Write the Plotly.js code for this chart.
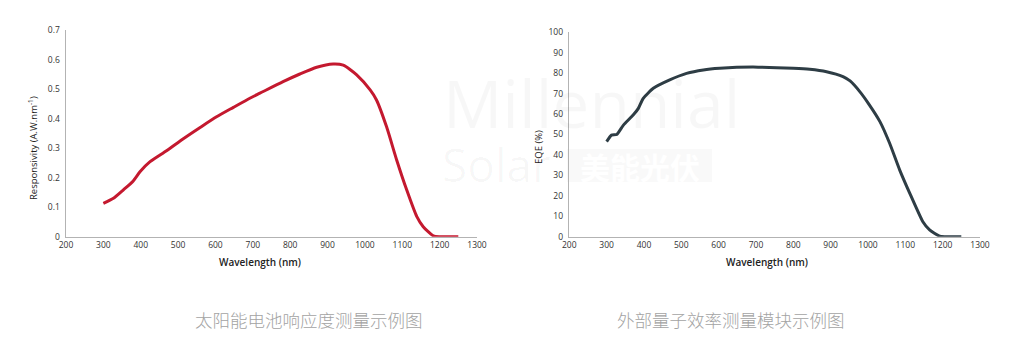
<!DOCTYPE html>
<html>
<head>
<meta charset="utf-8">
<script src="https://cdn.plot.ly/plotly-3.0.1.min.js"></script>
<style>html,body{margin:0;padding:0;background:#fff;}#chart{width:1023px;height:353px;}</style>
</head>
<body>
<div id="chart"></div>
<script>
// Responsivity curve (left)
const respWavelength = [300, 327, 353, 380, 398, 425, 469, 513, 559, 603, 648, 692, 719, 781, 826, 871, 915, 942, 978, 1014, 1031, 1058, 1085, 1112, 1139, 1156, 1183, 1200, 1250];
const respValues     = [0.113, 0.13, 0.158, 0.189, 0.22, 0.254, 0.291, 0.331, 0.37, 0.406, 0.438, 0.469, 0.486, 0.525, 0.551, 0.574, 0.585, 0.581, 0.548, 0.497, 0.463, 0.372, 0.26, 0.158, 0.068, 0.034, 0.003, 0.0, 0.0];
// EQE curve (right)
const eqeWavelength = [300, 313, 327, 345, 371, 385, 398, 425, 469, 514, 559, 603, 692, 710, 800, 844, 889, 933, 952, 978, 1000, 1032, 1058, 1085, 1112, 1147, 1165, 1192, 1250];
const eqeValues     = [46.5, 49.7, 50, 54.6, 59.5, 62.8, 67.7, 72.6, 76.7, 79.9, 81.6, 82.4, 83.0, 82.9, 82.4, 81.9, 80.7, 78.3, 76.2, 71, 65.5, 56.3, 45.7, 32.6, 21.2, 7.3, 3.3, 0.3, 0];
const xTicks = [200, 300, 400, 500, 600, 700, 800, 900, 1000, 1100, 1200, 1300];
const respTicks = [0, 0.1, 0.2, 0.3, 0.4, 0.5, 0.6, 0.7];
const eqeTicks = [0, 10, 20, 30, 40, 50, 60, 70, 80, 90, 100];
const captions = ["太阳能电池响应度测量示例图", "外部量子效率测量模块示例图"];
const titles = {x: "Wavelength (nm)", resp: "Responsivity (A.W.nm<sup>-1</sup>)", eqe: "EQE (%)"};

const FONT = "Open Sans, Lato, sans-serif";
const tickFont = {family: FONT, size: 8.5, color: "#333"};
const xTitleFont = {family: FONT, size: 10, color: "#222", weight: 600};
const yTitleFont = {family: FONT, size: 9.5, color: "#222"};
const capFont = {family: "Noto Sans CJK SC, sans-serif", size: 17.5, color: "#a3a3a3", weight: 300};
const wm = "rgba(0,0,0,0.03)";

const traces = [
  {x: respWavelength, y: respValues, xaxis: "x", yaxis: "y", type: "scatter", mode: "lines",
   line: {color: "#c4192f", width: 3, shape: "spline", smoothing: 0.6}, hoverinfo: "skip"},
  {x: eqeWavelength, y: eqeValues, xaxis: "x2", yaxis: "y2", type: "scatter", mode: "lines",
   line: {color: "#2e3d45", width: 3, shape: "spline", smoothing: 0.5}, hoverinfo: "skip"}
];

const axBase = {showgrid: false, zeroline: false, showline: true, linecolor: "#b3b3b3", linewidth: 1.5,
  ticks: "", tickfont: tickFont, fixedrange: true};

function px(x, y) { return {x: x / 1023, y: (353 - y) / 353}; }
function ann(text, x, y, font, extra) {
  const p = px(x, y);
  return Object.assign({text: text, x: p.x, y: p.y, xref: "paper", yref: "paper", showarrow: false,
    xanchor: "center", yanchor: "middle", font: font}, extra || {});
}

const layout = {
  width: 1023, height: 353,
  margin: {l: 0, r: 0, t: 0, b: 0},
  paper_bgcolor: "#fff", plot_bgcolor: "rgba(0,0,0,0)",
  showlegend: false,
  xaxis: Object.assign({}, axBase, {domain: [66/1023, 477/1023], range: [200, 1300], tickvals: xTicks, anchor: "y"}),
  yaxis: Object.assign({}, axBase, {domain: [116.3/353, 323/353], range: [0, 0.7], tickvals: respTicks, anchor: "x", ticklabelstandoff: 3}),
  xaxis2: Object.assign({}, axBase, {domain: [569.3/1023, 980/1023], range: [200, 1300], tickvals: xTicks, anchor: "y2"}),
  yaxis2: Object.assign({}, axBase, {domain: [116.3/353, 320.7/353], range: [0, 100], tickvals: eqeTicks, anchor: "x2", ticklabelstandoff: 3}),
  shapes: [
    {type: "rect", xref: "paper", yref: "paper", layer: "below",
     x0: 567/1023, x1: 712/1023, y0: (353-182)/353, y1: (353-149)/353, fillcolor: "rgba(0,0,0,0.025)", line: {width: 0}}
  ],
  annotations: [
    ann("Millennial", 441, 102, {family: FONT, size: 66, color: wm}, {xanchor: "left"}),
    ann("Solar", 440, 164, {family: FONT, size: 46, color: wm}, {xanchor: "left"}),
    ann("美能光伏", 640, 166, {family: "Noto Sans CJK SC, sans-serif", size: 30, color: "#ffffff", weight: 700}),
    ann(titles.x, 259.5, 262, xTitleFont),
    ann(titles.x, 767, 262, xTitleFont),
    ann(titles.resp, 33, 148, yTitleFont, {textangle: -90}),
    ann(titles.eqe, 538, 147, yTitleFont, {textangle: -90}),
    ann(captions[0], 309, 319, capFont),
    ann(captions[1], 731, 319, capFont)
  ]
};

Plotly.newPlot("chart", traces, layout, {displayModeBar: false, staticPlot: true});
</script>
</body>
</html>
